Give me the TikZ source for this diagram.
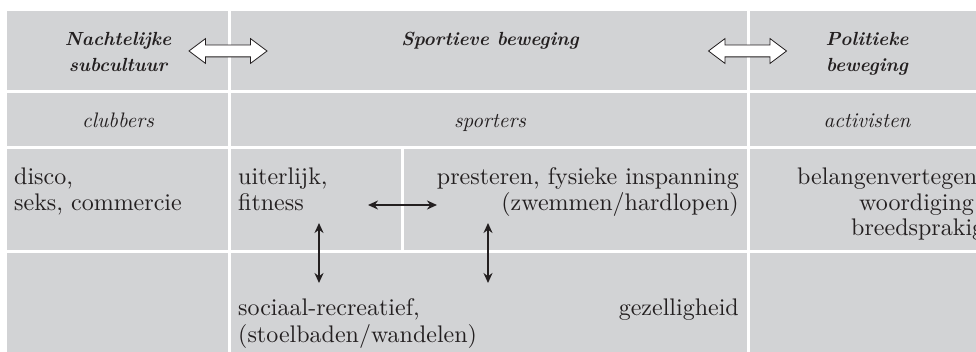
\documentclass[tikz,border=0pt]{standalone}
\usepackage{fontspec}
\setmainfont{lmroman10-regular.otf}[ItalicFont=lmroman10-italic.otf, BoldFont=lmroman10-bold.otf, BoldItalicFont=lmroman10-bolditalic.otf]
\usetikzlibrary{shapes.arrows,arrows.meta}
\definecolor{cellgray}{RGB}{210,211,213}
\definecolor{ink}{RGB}{35,31,32}
\begin{document}
\begin{tikzpicture}[x=1pt,y=-1pt,
  txt/.style={inner sep=0pt, text=ink, font=\fontsize{24}{25}\selectfont},
  itxt/.style={inner sep=0pt, text=ink, font=\fontsize{21}{25}\selectfont\itshape},
  head/.style={inner sep=0pt, text=ink, font=\fontsize{19}{26}\selectfont\bfseries\itshape},
  sep/.style={white, line width=3pt},
  dbl/.style={double arrow, draw=ink, fill=white, line width=0.8pt, inner xsep=0pt, inner ysep=5.5pt,
    minimum height=78pt, double arrow head extend=6.5pt,
    double arrow tip angle=74},
  biarrow/.style={{Stealth[length=10pt,width=9pt]}-{Stealth[length=10pt,width=9pt]}, line width=1.8pt, draw=ink}]
\useasboundingbox (0,0) rectangle (976,352);
\fill[cellgray] (7,11) rectangle (1000,360);
% separators
\draw[sep] (229,11) -- (229,360);
\draw[sep] (748,11) -- (748,360);
\draw[sep] (402,148) -- (402,252);
\draw[sep] (7,92) -- (1000,92);
\draw[sep] (7,148) -- (1000,148);
\draw[sep] (7,252) -- (1000,252);
% headings
\node[head, anchor=base] (n1) at (118,46) {Nachtelijke};
\node[head, anchor=base] (n2) at (118,72) {subcultuur};
\node[head, anchor=base] (s1) at (490,46) {Sportieve beweging};
\node[head, anchor=base] (p1) at (867,46) {Politieke};
\node[head, anchor=base] (p2) at (867,72) {beweging};
\node[dbl] (da1) at (228,51) {};
\node[dbl] (da2) at (747.5,51) {};
% row 2
\node[itxt, anchor=base] (r2a) at (118,128) {clubbers};
\node[itxt, anchor=base] (r2b) at (490,128) {sporters};
\node[itxt, anchor=base] (r2c) at (867,128) {activisten};
% row 3
\node[txt, anchor=base west] (d1) at (14,185) {disco,};
\node[txt, anchor=base west] (d2) at (14,210.5) {seks, commercie};
\node[txt, anchor=base west] (u1) at (238,185) {uiterlijk,};
\node[txt, anchor=base west] (u2) at (238,210.5) {fitness};
\node[txt, anchor=base east] (pr1) at (739,185) {presteren, fysieke inspanning};
\node[txt, anchor=base east] (pr2) at (739,210.5) {(zwemmen/hardlopen)};
\node[txt, anchor=base west] (b1) at (797,185) {belangenvertegen-};
\node[txt, anchor=base west] (b2) at (859,210.5) {woordiging};
\node[txt, anchor=base west] (b3) at (851,236) {breedsprakig};
% row 4
\node[txt, anchor=base west] (so1) at (238,316) {sociaal-recreatief,};
\node[txt, anchor=base west] (so2) at (238,342) {(stoelbaden/wandelen)};
\node[txt, anchor=base east] (gz) at (739,316) {gezelligheid};
% small arrows
\coordinate (h1) at (368,205);
\coordinate (h2) at (437,205);
\coordinate (v1t) at (319,223);
\coordinate (v1b) at (319,283);
\coordinate (v2t) at (488,223);
\coordinate (v2b) at (488,283);
\draw[biarrow] (h1) -- (h2);
\draw[biarrow] (v1t) -- (v1b);
\draw[biarrow] (v2t) -- (v2b);
\end{tikzpicture}
\end{document}
